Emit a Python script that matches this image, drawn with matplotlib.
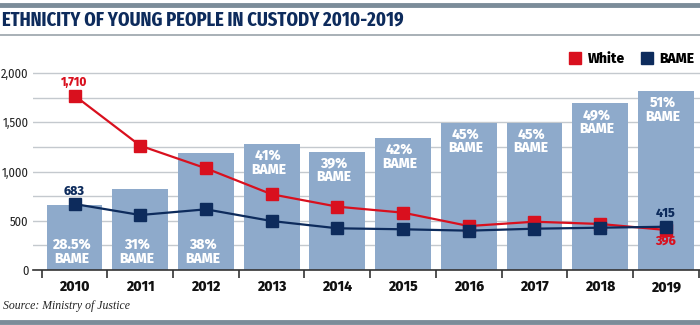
import matplotlib
matplotlib.use('Agg')
import matplotlib.pyplot as plt
from matplotlib.lines import Line2D
import matplotlib.ticker as ticker

years = ['2010', '2011', '2012', '2013', '2014', '2015', '2016', '2017', '2018', '2019']
totals = [661, 820, 1186, 1281, 1203, 1339, 1498, 1498, 1695, 1820]
white = [1773, 1264, 1034, 770, 644, 583, 447, 491, 468, 407]
bame = [671, 559, 617, 498, 424, 414, 400, 420, 430, 440]
bame_share = ['28.5%', '31%', '38%', '41%', '39%', '42%', '45%', '45%', '49%', '51%']
# share label sits at the bottom of the short bars, top of the others
share_at_bottom = [True, True, True, False, False, False, False, False, False, False]

NAVY = '#0d2b5c'
RED = '#d9101e'
BAR = '#8eaacb'
GRID = '#c4c9ce'
BANNER = '#7b8c99'

TITLE_FONT = ['Fira Sans Extra Condensed', 'DejaVu Sans']
BOLD_FONT = ['Fira Sans', 'DejaVu Sans']
TICK_FONT = ['Fira Sans Condensed', 'DejaVu Sans']

fig = plt.figure(figsize=(7.0, 3.25), dpi=100)
ax = fig.add_axes([33 / 700, 1 - 270 / 325, 667 / 700, (270 - 73.3) / 325 * 2100 / 2000])

x = range(len(years))
ax.bar(x, totals, width=0.85, color=BAR, zorder=2)
ax.plot(x, white, color=RED, lw=1.6, marker='s', ms=8.5, zorder=4)
ax.plot(x, bame, color=NAVY, lw=1.6, marker='s', ms=8.5, zorder=5)

for i, (t, s) in enumerate(zip(totals, bame_share)):
    if share_at_bottom[i]:
        ax.text(i - 0.05, 45, f'{s}\nBAME', ha='center', va='bottom', color='white',
                fontsize=10, fontweight=800, family=BOLD_FONT, linespacing=1.0, zorder=3)
    else:
        ax.text(i - 0.05, t - 45, f'{s}\nBAME', ha='center', va='top', color='white',
                fontsize=10, fontweight=800, family=BOLD_FONT, linespacing=1.0, zorder=3)

ax.text(0, white[0] + 70, '1,710', ha='center', va='bottom', color=RED,
        fontsize=8.5, fontweight=800, family=BOLD_FONT)
ax.text(0, bame[0] + 70, '683', ha='center', va='bottom', color=NAVY,
        fontsize=9, fontweight=800, family=BOLD_FONT)
ax.text(9, bame[9] + 70, '415', ha='center', va='bottom', color=NAVY,
        fontsize=9, fontweight=800, family=BOLD_FONT)
ax.text(9, white[9] - 55, '396', ha='center', va='top', color=RED,
        fontsize=9, fontweight=800, family=BOLD_FONT)

left = -0.5 - 8.7 / 65.7
ax.set_xlim(left, 9.52)
ax.set_ylim(0, 2100)
ax.set_yticks(range(0, 2001, 500))
ax.yaxis.set_major_formatter(ticker.FuncFormatter(lambda v, p: f'{v:,.0f}'))
ax.set_yticks(range(250, 2001, 500), minor=True)
ax.grid(True, axis='y', which='both', color=GRID, lw=1, zorder=0)
ax.set_axisbelow(True)
for sp in ['top', 'right', 'left']:
    ax.spines[sp].set_visible(False)
ax.spines['bottom'].set_color('#333333')
ax.spines['bottom'].set_linewidth(1.2)
ax.tick_params(axis='y', which='both', length=0, pad=3, labelsize=9, colors='#222222')
for lab in ax.get_yticklabels():
    lab.set_family(TICK_FONT)

ax.set_xticks([i + 0.5 for i in range(-1, 10)], minor=True)
ax.set_xticks(list(x))
ax.set_xticklabels(years, fontsize=10, fontweight=800, family=BOLD_FONT, color='#111111')
ax.tick_params(axis='x', which='major', length=0, pad=7)
ax.tick_params(axis='x', which='minor', length=6, width=1.2, color='#333333', direction='out')

handles = [Line2D([], [], ls='none', marker='s', ms=8.5, color=RED),
           Line2D([], [], ls='none', marker='s', ms=8.5, color=NAVY)]
fig.legend(handles, ['White', 'BAME'], loc='center right', bbox_to_anchor=(1.01, 1 - 59 / 325),
           ncol=2, frameon=False, handlelength=0.8, handletextpad=0.5, columnspacing=1.2,
           prop={'family': BOLD_FONT, 'weight': 800, 'size': 10})

# banner lines and title
fig.add_artist(Line2D([0, 1], [1 - 5 / 325] * 2, color=BANNER, lw=3.5))
fig.add_artist(Line2D([0, 1], [1 - 34.5 / 325] * 2, color='#9aa3aa', lw=1.2))
fig.add_artist(Line2D([0, 1], [1 - 322 / 325] * 2, color=BANNER, lw=3.5))
fig.text(2 / 700, 1 - 20 / 325, 'ETHNICITY OF YOUNG PEOPLE IN CUSTODY 2010-2019', ha='left', va='center',
         color=NAVY, fontsize=14.5, fontweight='bold', family=TITLE_FONT)
fig.text(3 / 700, 1 - 306 / 325, 'Source: Ministry of Justice', ha='left', va='center',
         color='#222222', fontsize=8.5, style='italic', family=['Liberation Serif', 'DejaVu Serif'])

fig.savefig('out.png', dpi=100)
